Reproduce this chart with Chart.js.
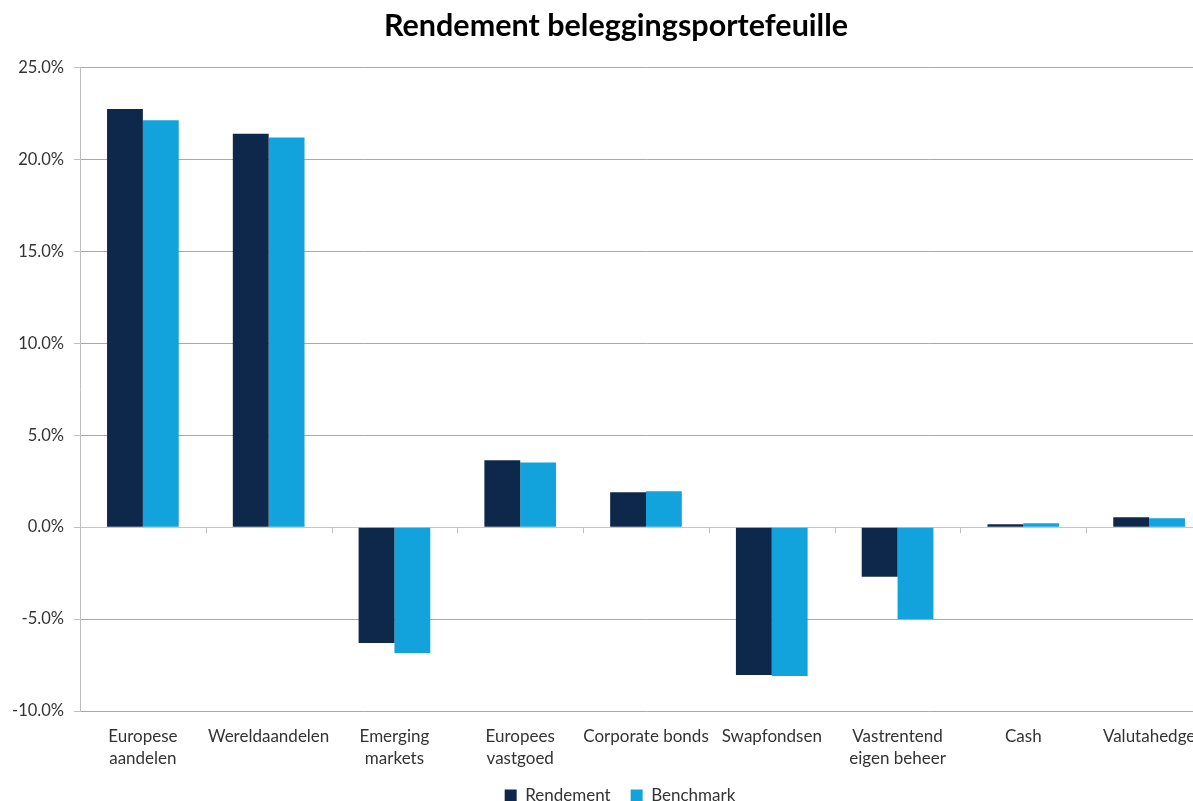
<!DOCTYPE html>
<html>
<head>
<meta charset="utf-8">
<script src="https://cdn.jsdelivr.net/npm/chart.js@4.4.1/dist/chart.umd.min.js"></script>
<style>
html,body{margin:0;padding:0;background:#fff;overflow:hidden;width:1193px;height:801px;}
#wrap{width:1232px;height:801px;}
</style>
</head>
<body>
<div id="wrap"><canvas id="c" width="1232" height="801"></canvas></div>
<script>
const categories = [["Europese","aandelen"],"Wereldaandelen",["Emerging","markets"],["Europees","vastgoed"],"Corporate bonds","Swapfondsen",["Vastrentend","eigen beheer"],"Cash","Valutahedge"];
const rendement = [22.75, 21.4, -6.3, 3.64, 1.9, -8.04, -2.7, 0.16, 0.54];
const benchmark = [22.13, 21.2, -6.85, 3.52, 1.96, -8.1, -5.0, 0.22, 0.49];
const seriesNames = ["Rendement","Benchmark"];
const titleText = "Rendement beleggingsportefeuille";

const FONT = "Lato, 'Open Sans', sans-serif";

const zeroTicks = {
  id:'zeroTicks',
  afterDatasetsDraw(chart){
    const x = chart.scales.x, y = chart.scales.y, ctx = chart.ctx;
    const y0 = y.getPixelForValue(0);
    ctx.save();
    ctx.strokeStyle = '#bfbfbf';
    ctx.lineWidth = 1;
    const n = categories.length;
    for(let i=0;i<=n;i++){
      let px;
      if(i===0) px = x.left;
      else if(i===n) px = x.right;
      else px = (x.getPixelForTick(i-1)+x.getPixelForTick(i))/2;
      px = Math.round(px)+0.5;
      ctx.beginPath();
      ctx.moveTo(px, y0);
      ctx.lineTo(px, y0+6);
      ctx.stroke();
    }
    ctx.restore();
  }
};

const shiftBlocks = {
  id:'shiftBlocks',
  afterLayout(chart){
    if(chart.titleBlock){ chart.titleBlock.left += 8; chart.titleBlock.right += 8; }
    if(chart.legend){ chart.legend.left += 12; chart.legend.right += 12; }
  }
};

new Chart(document.getElementById('c'), {
  type:'bar',
  data:{
    labels: categories,
    datasets:[
      {label:seriesNames[0], data:rendement, backgroundColor:'#0e284b', borderWidth:0},
      {label:seriesNames[1], data:benchmark, backgroundColor:'#12a3dc', borderWidth:0}
    ]
  },
  options:{
    responsive:false,
    animation:false,
    devicePixelRatio:1,
    layout:{padding:{left:4,right:20,top:0,bottom:0}},
    datasets:{bar:{barPercentage:1.0, categoryPercentage:0.57}},
    plugins:{
      title:{display:true,text:titleText,color:'#000',font:{family:FONT,size:30.5,weight:'bold'},padding:{top:8,bottom:23}},
      legend:{position:'bottom',maxHeight:34,labels:{boxWidth:12,boxHeight:12,color:'#333',font:{family:FONT,size:17},padding:20}},
      tooltip:{enabled:false}
    },
    scales:{
      x:{
        grid:{display:false},
        border:{display:false},
        ticks:{color:'#333',font:{family:FONT,size:17,lineHeight:1.3},maxRotation:0,autoSkip:false,padding:6},
        afterFit(s){ s.height = 56; }
      },
      y:{
        min:-10,max:25,
        ticks:{stepSize:5,color:'#333',font:{family:FONT,size:16.5},padding:10,callback:v=>v.toFixed(1)+'%'},
        grid:{color:ctx=>ctx.tick && ctx.tick.value===0 ? '#c6c6c6' : '#a9a9a9',tickLength:6,tickColor:'#bfbfbf'},
        border:{display:true,color:'#bfbfbf'},
        afterFit(s){ s.width = 76; }
      }
    }
  },
  plugins:[zeroTicks, shiftBlocks]
});
</script>
</body>
</html>
